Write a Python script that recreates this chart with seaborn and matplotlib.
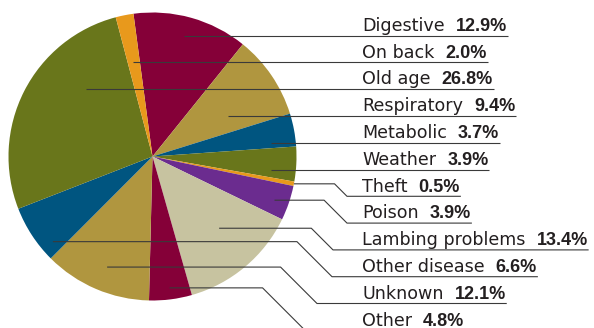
import matplotlib
matplotlib.use("Agg")
import matplotlib.pyplot as plt
import seaborn as sns
import numpy as np

# Causes of sheep death, in slice order (clockwise from the top)
causes = ["Digestive", "Respiratory", "Metabolic", "Weather", "Theft", "Poison",
          "Lambing problems", "Other", "Unknown", "Other disease", "Old age", "On back"]
shares = [12.9, 9.4, 3.7, 3.9, 0.5, 3.9, 13.4, 4.8, 12.1, 6.6, 26.8, 2.0]

# Order of the labels in the right-hand column
label_order = ["Digestive", "On back", "Old age", "Respiratory", "Metabolic", "Weather",
               "Theft", "Poison", "Lambing problems", "Other disease", "Unknown", "Other"]

palette_hex = ["#850038", "#B0963F", "#005580", "#69761B", "#E8991C", "#6B2C8F", "#C7C3A0"]

# Leader anchors: (fraction across the wedge, fraction of radius or None = on row line)
anchor_spec = {
    "Digestive": (0.48, None), "On back": (0.43, None), "Old age": (0.69, None),
    "Respiratory": (0.68, None), "Metabolic": (0.80, None), "Weather": (0.73, None),
    "Theft": (0.5, 1.0), "Poison": (0.56, 0.90), "Lambing problems": (0.44, 0.68),
    "Other disease": (0.19, 0.91), "Unknown": (0.48, 0.83), "Other": (0.49, 0.92),
}
# x where the slanted part of a leader meets its row
elbow_x = {"Theft": 347, "Poison": 347, "Lambing problems": 333,
           "Other disease": 332, "Unknown": 317, "Other": 305}

sns.set_theme(style="white")
plt.rcParams["font.family"] = ["DejaVu Sans"]

W, H = 594, 328
fig = plt.figure(figsize=(W / 100, H / 100), dpi=100)
ax = fig.add_axes([0, 0, 1, 1])

cx, cy, R = 152.5, 171.5, 144
pal = sns.color_palette(palette_hex)
slice_colors = [pal[i % len(pal)] for i in range(len(shares))]
wedges, _ = ax.pie(shares, colors=slice_colors, startangle=97.6, counterclock=False,
                   center=(cx, cy), radius=R, wedgeprops=dict(linewidth=0))
ax.set_xlim(0, W)
ax.set_ylim(0, H)
ax.set_aspect("equal")
ax.axis("off")

wedge_of = dict(zip(causes, wedges))
value_of = dict(zip(causes, shares))

text_x = 362
row_top = H - 35.5
row_step = 26.8
line_kw = dict(color="#3a3a3a", lw=0.8, solid_capstyle="butt")
txt_color = "#231f20"

renderer = fig.canvas.get_renderer()
inv = ax.transData.inverted()

for i, name in enumerate(label_order):
    ry = row_top - i * row_step
    base = ry + 4.6
    t1 = ax.text(text_x, base, name, fontsize=12.6, color=txt_color, va="baseline")
    bb = t1.get_window_extent(renderer)
    x1 = inv.transform((bb.x1, bb.y0))[0]
    t2 = ax.text(x1 + 11, base, f"{value_of[name]:.1f}%", fontsize=13, fontweight="bold",
                 family=["Liberation Sans", "DejaVu Sans"], color=txt_color, va="baseline")
    bb2 = t2.get_window_extent(renderer)
    x_end = inv.transform((bb2.x1, bb2.y0))[0] + 1

    w = wedge_of[name]
    frac, rf = anchor_spec[name]
    theta = np.deg2rad(w.theta2 - frac * (w.theta2 - w.theta1))
    if rf is None:
        ay = ry
        ax_ = cx + (ry - cy) / np.tan(theta)
        ax.plot([ax_, x_end], [ry, ry], **line_kw)
    else:
        ax_ = cx + rf * R * np.cos(theta)
        ay = cy + rf * R * np.sin(theta)
        ex = elbow_x[name]
        bx = ex - (ay - ry)
        ax.plot([ax_, bx, ex, x_end], [ay, ay, ry, ry], **line_kw)

fig.savefig("out.png", dpi=100)
